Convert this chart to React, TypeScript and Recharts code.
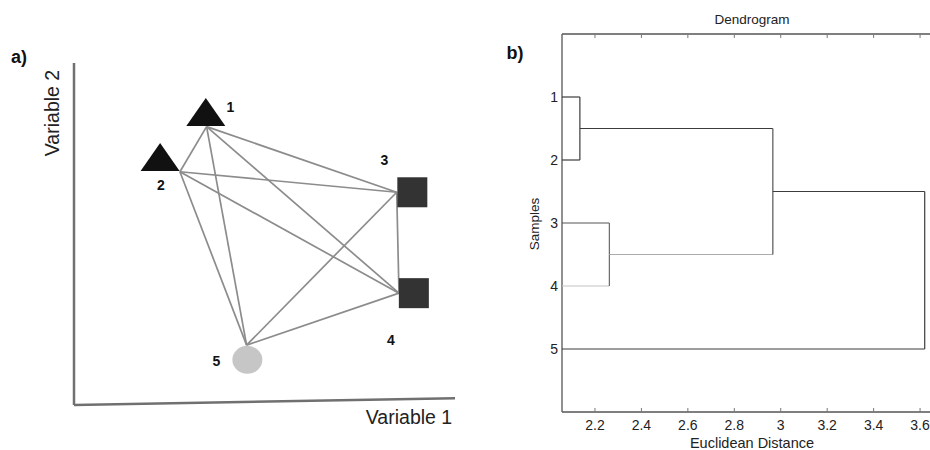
import React from 'react';
import { ScatterChart, Scatter, XAxis, YAxis, ReferenceLine } from 'recharts';

// ---- Panel a) data ----
const SAMPLE_IDS = [1, 2, 3, 4, 5];
const SAMPLE_GROUP = ['A', 'A', 'B', 'B', 'C'];
const MARKER_X = [3.46, 2.26, 8.88, 8.92, 4.55];
const MARKER_Y = [8.57, 7.25, 6.22, 3.27, 1.32];
const ANCHOR_X = [3.48, 2.78, 8.47, 8.53, 4.53];
const ANCHOR_Y = [8.14, 6.82, 6.22, 3.27, 1.75];
const EDGES: [number, number][] = [
  [1, 2], [1, 3], [1, 4], [1, 5], [2, 3], [2, 4], [2, 5], [3, 4], [3, 5], [4, 5],
];

// ---- Panel b) data ----
const LEAF_ORDER = ['1', '2', '3', '4', '5'];
// [childA, childB, distance]; leaves 1..5, clusters 6..
const LINKAGE: [number, number, number][] = [
  [1, 2, 2.135],
  [3, 4, 2.262],
  [6, 7, 2.966],
  [8, 5, 3.62],
];
const DIST_TICKS = [2.2, 2.4, 2.6, 2.8, 3, 3.2, 3.4, 3.6];
const DIST_DOMAIN: [number, number] = [2.058, 3.66];

// ---- styles ----
const FONT = '"Liberation Sans", Arial, Helvetica, sans-serif';
const SEG_COLORS = [
  ['#3c3c3c', '#3c3c3c', '#3c3c3c'],
  ['#555555', '#c4c4c4', '#6a6a6a'],
  ['#3c3c3c', '#acacac', '#555555'],
  ['#3c3c3c', '#3c3c3c', '#3c3c3c'],
];
const LABEL_OFFSET: Record<number, [number, number]> = {
  1: [24.5, -5],
  2: [0.7, 28],
  3: [-28, -32],
  4: [-23, 47],
  5: [-31, 1],
};

const scatterData = SAMPLE_IDS.map((id, i) => ({
  id,
  x: MARKER_X[i],
  y: MARKER_Y[i],
  group: SAMPLE_GROUP[i],
}));

const MarkerShape = (props: any) => {
  const { cx, cy, payload } = props;
  const g = payload.group;
  let mark;
  if (g === 'A') {
    mark = (
      <polygon
        points={`${cx},${cy - 14} ${cx + 19.5},${cy + 14} ${cx - 19.5},${cy + 14}`}
        fill="#111111"
      />
    );
  } else if (g === 'B') {
    mark = <rect x={cx - 15} y={cy - 15} width={30} height={30} fill="#333333" />;
  } else {
    mark = <ellipse cx={cx} cy={cy} rx={15} ry={14} fill="#c6c6c6" />;
  }
  const off = LABEL_OFFSET[payload.id];
  return (
    <g>
      {mark}
      <text
        x={cx + off[0]}
        y={cy + off[1]}
        textAnchor="middle"
        dominantBaseline="central"
        fontFamily={FONT}
        fontWeight="bold"
        fontSize={14}
        fill="#111"
      >
        {payload.id}
      </text>
    </g>
  );
};

const NoShape = () => <g />;
const NoTick = () => <g />;

// build dendrogram segments from linkage
type Seg = { x1: number; y1: number; x2: number; y2: number; color: string };
const buildSegments = (): Seg[] => {
  const nodes: Record<number, { pos: number; h: number }> = {};
  LEAF_ORDER.forEach((lbl, i) => {
    nodes[Number(lbl)] = { pos: i + 1, h: DIST_DOMAIN[0] };
  });
  const segs: Seg[] = [];
  LINKAGE.forEach(([a, b, d], k) => {
    const na = nodes[a];
    const nb = nodes[b];
    const c = SEG_COLORS[k];
    segs.push({ x1: na.h, y1: na.pos, x2: d, y2: na.pos, color: c[0] });
    segs.push({ x1: nb.h, y1: nb.pos, x2: d, y2: nb.pos, color: c[1] });
    segs.push({ x1: d, y1: na.pos, x2: d, y2: nb.pos, color: c[2] });
    nodes[LEAF_ORDER.length + k + 1] = { pos: (na.pos + nb.pos) / 2, h: d };
  });
  return segs;
};
const SEGMENTS = buildSegments();

const abs = (style: React.CSSProperties): React.CSSProperties => ({
  position: 'absolute',
  fontFamily: FONT,
  whiteSpace: 'nowrap',
  lineHeight: 1,
  ...style,
});

export default function App() {
  return (
    <div
      style={{
        position: 'absolute',
        left: 0,
        top: 0,
        width: 930,
        height: 450,
        overflow: 'hidden',
        background: '#fff',
      }}
    >
      {/* Panel a */}
      <div style={{ position: 'absolute', left: 0, top: 0 }}>
        <ScatterChart width={470} height={450} margin={{ top: 63, left: 74, right: 15, bottom: 45 }}>
          <XAxis type="number" dataKey="x" domain={[0, 10]} hide />
          <YAxis type="number" dataKey="y" domain={[0, 10]} hide />
          <ReferenceLine
            segment={[{ x: 0, y: 0 }, { x: 0, y: 10 }]}
            stroke="#707070"
            strokeWidth={2.5}
            ifOverflow="visible"
          />
          <ReferenceLine
            segment={[{ x: 0, y: 0 }, { x: 10, y: 0.2 }]}
            stroke="#707070"
            strokeWidth={2.5}
            ifOverflow="visible"
          />
          {EDGES.map(([a, b]) => (
            <ReferenceLine
              key={`e${a}-${b}`}
              segment={[
                { x: ANCHOR_X[a - 1], y: ANCHOR_Y[a - 1] },
                { x: ANCHOR_X[b - 1], y: ANCHOR_Y[b - 1] },
              ]}
              stroke="#8c8c8c"
              strokeWidth={1.7}
              ifOverflow="visible"
            />
          ))}
          <Scatter data={scatterData} shape={MarkerShape} isAnimationActive={false} />
        </ScatterChart>
      </div>
      <div style={abs({ left: 19, top: 57, transform: 'translate(-50%,-50%)', fontSize: 18, fontWeight: 'bold', color: '#111' })}>a)</div>
      <div style={abs({ left: 53, top: 113, transform: 'translate(-50%,-50%) rotate(-90deg)', fontSize: 19.5, color: '#222' })}>Variable 2</div>
      <div style={abs({ left: 409, top: 418, transform: 'translate(-50%,-50%)', fontSize: 19.5, color: '#222' })}>Variable 1</div>

      {/* Panel b */}
      <div style={{ position: 'absolute', left: 470, top: 0 }}>
        <ScatterChart width={480} height={450} margin={{ top: 33, left: 52, right: 16, bottom: 8 }}>
          <XAxis
            type="number"
            dataKey="x"
            orientation="bottom"
            domain={DIST_DOMAIN}
            ticks={DIST_TICKS}
            allowDataOverflow
            height={30}
            tickSize={-4}
            tickMargin={12}
            axisLine={{ stroke: '#555', strokeWidth: 1.3 }}
            tickLine={{ stroke: '#777' }}
            tick={{ fill: '#222', fontSize: 14, fontFamily: FONT }}
          />
          <XAxis
            xAxisId="t"
            type="number"
            dataKey="x"
            orientation="top"
            domain={DIST_DOMAIN}
            ticks={DIST_TICKS}
            allowDataOverflow
            height={1}
            tickSize={-4}
            axisLine={{ stroke: '#555', strokeWidth: 1.3 }}
            tickLine={{ stroke: '#777' }}
            tick={NoTick}
          />
          <YAxis
            type="number"
            dataKey="y"
            domain={[0, LEAF_ORDER.length + 1]}
            ticks={LEAF_ORDER.map((_, i) => i + 1)}
            tickFormatter={(v: number) => LEAF_ORDER[v - 1] ?? ''}
            reversed
            allowDataOverflow
            width={40}
            tickSize={0}
            tickMargin={4}
            tickLine={false}
            axisLine={{ stroke: '#555', strokeWidth: 1.3 }}
            tick={{ fill: '#222', fontSize: 14, fontFamily: FONT }}
          />
          {SEGMENTS.map((s, i) => (
            <Scatter
              key={`s${i}`}
              data={[
                { x: s.x1, y: s.y1 },
                { x: s.x2, y: s.y2 },
              ]}
              line={{ stroke: s.color, strokeWidth: 1.2 }}
              shape={NoShape}
              isAnimationActive={false}
            />
          ))}
        </ScatterChart>
      </div>
      <div style={abs({ left: 752, top: 20, transform: 'translate(-50%,-50%)', fontSize: 13.5, color: '#222' })}>Dendrogram</div>
      <div style={abs({ left: 515, top: 53, transform: 'translate(-50%,-50%)', fontSize: 18, fontWeight: 'bold', color: '#111' })}>b)</div>
      <div style={abs({ left: 535, top: 224, transform: 'translate(-50%,-50%) rotate(-90deg)', fontSize: 13.5, color: '#222' })}>Samples</div>
      <div style={abs({ left: 752, top: 443, transform: 'translate(-50%,-50%)', fontSize: 14.5, color: '#222' })}>Euclidean Distance</div>
    </div>
  );
}
